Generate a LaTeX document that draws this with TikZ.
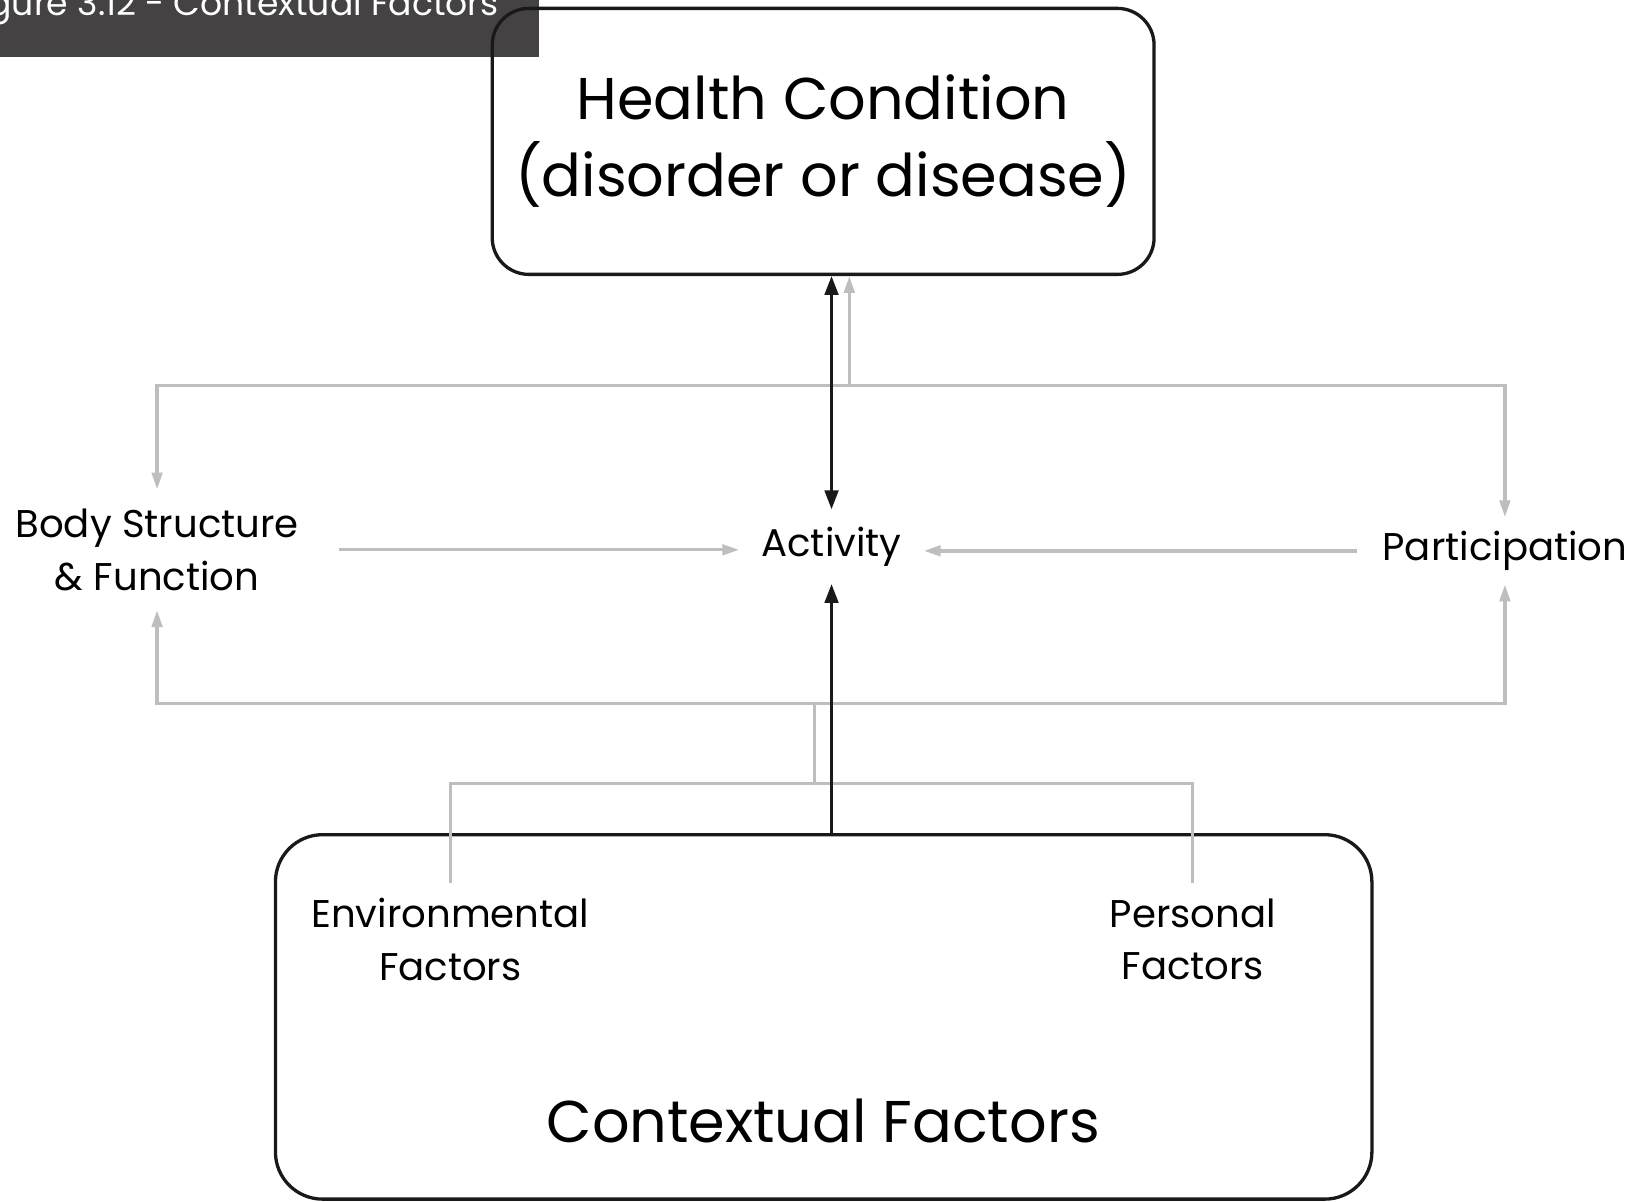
\documentclass[tikz,border=0pt]{standalone}
\usepackage{fontspec}
\setmainfont{Poppins}
\usetikzlibrary{arrows.meta}
\definecolor{linegray}{RGB}{190,190,190}
\definecolor{bargray}{RGB}{69,66,67}
\begin{document}
\begin{tikzpicture}[x=0.1mm,y=-0.1mm,
    box/.style={draw=black!90,line width=0.9pt,align=center},
    lbl/.style={align=center,inner sep=0pt,font=\fontsize{10.5}{14.2}\selectfont},
    big/.style={font=\fontsize{16}{21}\selectfont},
    blk/.style={black!90,line width=0.8pt,>={Triangle[length=1.8mm,width=1.3mm]}},
    gry/.style={linegray,line width=0.9pt,>={Triangle[length=1.6mm,width=1.0mm]}}]
  \useasboundingbox (0,0) rectangle (1566,1147);
  % title bar, cut off at the top
  \fill[bargray] (0,0) rectangle (515,54);
  \begin{scope}
    \clip (0,0) rectangle (515,54);
    \node[anchor=base east,inner sep=0pt,white,font=\fontsize{9.4}{11}\selectfont]
      (figtitle) at (477,15) {Figure 3.12 - Contextual Factors};
  \end{scope}
  % boxes
  \node[box,big,minimum width=63.2mm,minimum height=25.4mm,rounded corners=3.5mm]
    (health) at (786,135) {Health Condition\\(disorder or disease)};
  \node[box,minimum width=104.7mm,minimum height=34.8mm,rounded corners=4.5mm]
    (context) at (786.5,971) {};
  \node[lbl,big] (ctxlabel) at (786,1070) {Contextual Factors};
  % labels
  \node[lbl,minimum width=34.6mm,minimum height=11.4mm] (body) at (150,525)
    {Body Structure\\\& Function};
  \node[lbl,minimum width=17.5mm,minimum height=7mm] (activity) at (794,522) {Activity};
  \node[lbl,minimum width=28.2mm,minimum height=6.3mm] (particip) at (1437,526)
    {Participation};
  \node[lbl,inner ysep=1.4mm] (envir) at (430,897) {Environmental\\Factors};
  \node[lbl,inner ysep=1.4mm] (personal) at (1139,897) {Personal\\Factors};
  \coordinate (upjoin) at (811,368);
  \coordinate (lowjoin) at (778,672);
  \coordinate (envjoin) at (778,748);
  % gray links
  \draw[gry,->] (upjoin) -- (upjoin |- health.south);
  \draw[gry,<->] (body.north) |- (upjoin) -| (particip.north);
  \draw[gry,<->] (body.south) |- (lowjoin) -| (particip.south);
  \draw[gry] (lowjoin) -- (envjoin);
  \draw[gry] (envir.north) |- (envjoin) -| (personal.north);
  \draw[gry,->] (body.east) -- (body.east -| activity.west);
  \draw[gry,->] (particip.west) -- (particip.west -| activity.east);
  % black links
  \draw[blk,<->] (health.south -| activity.north) -- (activity.north);
  \draw[blk,->] (context.north -| activity.south) -- (activity.south);
\end{tikzpicture}
\end{document}
